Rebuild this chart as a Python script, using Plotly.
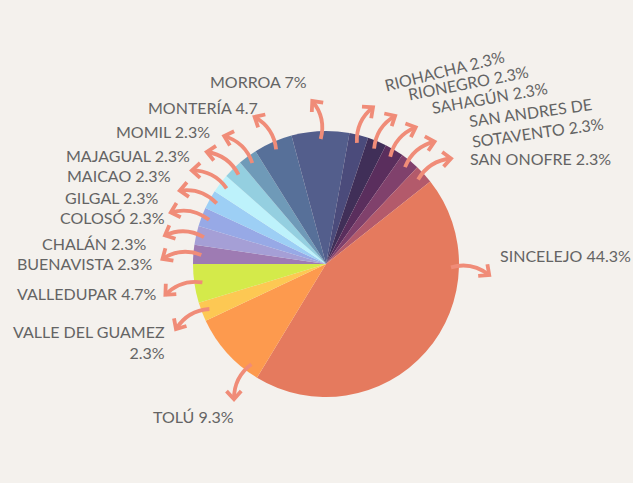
import math
import plotly.graph_objects as go

W, H = 633, 483

# --- data -------------------------------------------------------------
municipios = [
    "BUENAVISTA", "CHALÁN", "COLOSÓ", "GILGAL", "MAICAO", "MAJAGUAL",
    "MOMIL", "MONTERÍA", "MORROA", "RIOHACHA", "RIONEGRO", "SAHAGÚN",
    "SAN ANDRES DE SOTAVENTO", "SAN ONOFRE", "SINCELEJO", "TOLÚ",
    "VALLE DEL GUAMEZ", "VALLEDUPAR",
]
porcentajes = [
    2.3, 2.3, 2.3, 2.3, 2.3, 2.3,
    2.3, 4.7, 7.0, 2.3, 2.3, 2.3,
    2.3, 2.3, 44.3, 9.3,
    2.3, 4.7,
]
etiquetas = [
    "BUENAVISTA 2.3%", "CHALÁN 2.3%", "COLOSÓ 2.3%", "GILGAL 2.3%",
    "MAICAO 2.3%", "MAJAGUAL 2.3%", "MOMIL 2.3%", "MONTERÍA 4.7",
    "MORROA 7%", "RIOHACHA 2.3%", "RIONEGRO 2.3%", "SAHAGÚN 2.3%",
    "SAN ANDRES DE<br>SOTAVENTO 2.3%", "SAN ONOFRE 2.3%", "SINCELEJO 44.3%",
    "TOLÚ 9.3%", "VALLE DEL GUAMEZ<br>2.3%", "VALLEDUPAR 4.7%",
]

# --- styling ----------------------------------------------------------
colores = [
    "#9e7bb3", "#a59fd6", "#97a9e6", "#9dcff5", "#bdf2fb", "#94cfe0",
    "#6f9ab8", "#577099", "#535e8c", "#4b4b7b", "#402f58", "#5a2e5d",
    "#80416c", "#b35a6b", "#e57a5e", "#fd9a4e", "#fdc853", "#d4ea4a",
]

# label placement: (x, y, xanchor, textangle, align)
posiciones = [
    (155, 263, "right", 0, "right"),
    (148, 243, "right", 0, "right"),
    (167, 217, "right", 0, "right"),
    (160, 197, "right", 0, "right"),
    (173, 175, "right", 0, "right"),
    (192, 155, "right", 0, "right"),
    (212, 131, "right", 0, "right"),
    (260, 107, "right", 0, "right"),
    (258, 81, "center", 0, "center"),
    (444, 70, "center", -14, "center"),
    (468, 82, "center", -11, "center"),
    (489, 97, "center", -10, "center"),
    (536, 122, "center", -8, "left"),
    (468, 158, "left", 0, "left"),
    (498, 255, "left", 0, "left"),
    (193, 416, "center", 0, "center"),
    (167, 342, "right", 0, "right"),
    (159, 293, "right", 0, "right"),
]
# where along each slice its arrow leaves (0 = slice start, 1 = slice end)
salida_flecha = [0.5] * len(municipios)
salida_flecha[municipios.index("SINCELEJO")] = 0.25
salida_flecha[municipios.index("TOLÚ")] = 0.16

CX, CY, R = 326, 264, 133
FONDO = "#f4f1ed"
TEXTO = "#646464"
FLECHA = "#f08c78"

fig = go.Figure()
fig.add_trace(go.Pie(
    labels=municipios,
    values=porcentajes,
    sort=False,
    direction="clockwise",
    rotation=270,
    marker=dict(colors=colores, line=dict(width=0)),
    textinfo="none",
    hoverinfo="label+percent",
    showlegend=False,
    domain=dict(x=[(CX - R) / W, (CX + R) / W],
                y=[(H - CY - R) / H, (H - CY + R) / H]),
))

# --- curved arrows from each slice ------------------------------------
def punto(bearing_deg, dist, ox, oy):
    a = math.radians(bearing_deg)
    return ox + dist * math.sin(a), oy - dist * math.cos(a)

total = sum(porcentajes)
shapes = []
acum = 0.0
for val, frac in zip(porcentajes, salida_flecha):
    # bearing measured clockwise from 12 o'clock; slices start at 9 o'clock
    theta = 270 + (acum + frac * val) / total * 360
    theta = ((theta + 180) % 360) - 180
    acum += val
    s = 1 if theta >= 0 else -1           # right side bends clockwise
    x0, y0 = punto(theta, R - 8, CX, CY)
    cuerda = theta + s * 10
    L = 39
    x2, y2 = punto(cuerda, L, x0, y0)
    mx, my = (x0 + x2) / 2, (y0 + y2) / 2
    cx, cy = punto(cuerda - s * 90, 10, mx, my)
    shapes.append(dict(
        type="path", xref="x", yref="y", layer="above",
        path=f"M {x0:.1f},{y0:.1f} Q {cx:.1f},{cy:.1f} {x2:.1f},{y2:.1f}",
        line=dict(color=FLECHA, width=3.8),
    ))
    dirx, diry = x2 - cx, y2 - cy
    rumbo = math.degrees(math.atan2(dirx, -diry))
    ax, ay = punto(rumbo + 180 - 42, 11, x2, y2)
    bx, by = punto(rumbo + 180 + 42, 11, x2, y2)
    shapes.append(dict(
        type="path", xref="x", yref="y", layer="above",
        path=f"M {ax:.1f},{ay:.1f} L {x2:.1f},{y2:.1f} L {bx:.1f},{by:.1f}",
        line=dict(color=FLECHA, width=3.8),
    ))

# --- labels -----------------------------------------------------------
annotations = []
for txt, (x, y, xa, ang, al) in zip(etiquetas, posiciones):
    annotations.append(dict(
        x=x, y=y, xref="x", yref="y", text=txt, showarrow=False,
        xanchor=xa, yanchor="middle", textangle=ang, align=al,
        font=dict(family="Lato", size=16, color=TEXTO),
    ))

fig.update_layout(
    width=W, height=H,
    margin=dict(l=0, r=0, t=0, b=0),
    paper_bgcolor=FONDO,
    plot_bgcolor="rgba(0,0,0,0)",
    xaxis=dict(range=[0, W], visible=False, fixedrange=True, domain=[0, 1]),
    yaxis=dict(range=[H, 0], visible=False, fixedrange=True, domain=[0, 1]),
    shapes=shapes,
    annotations=annotations,
)

fig.write_html("out.html")
